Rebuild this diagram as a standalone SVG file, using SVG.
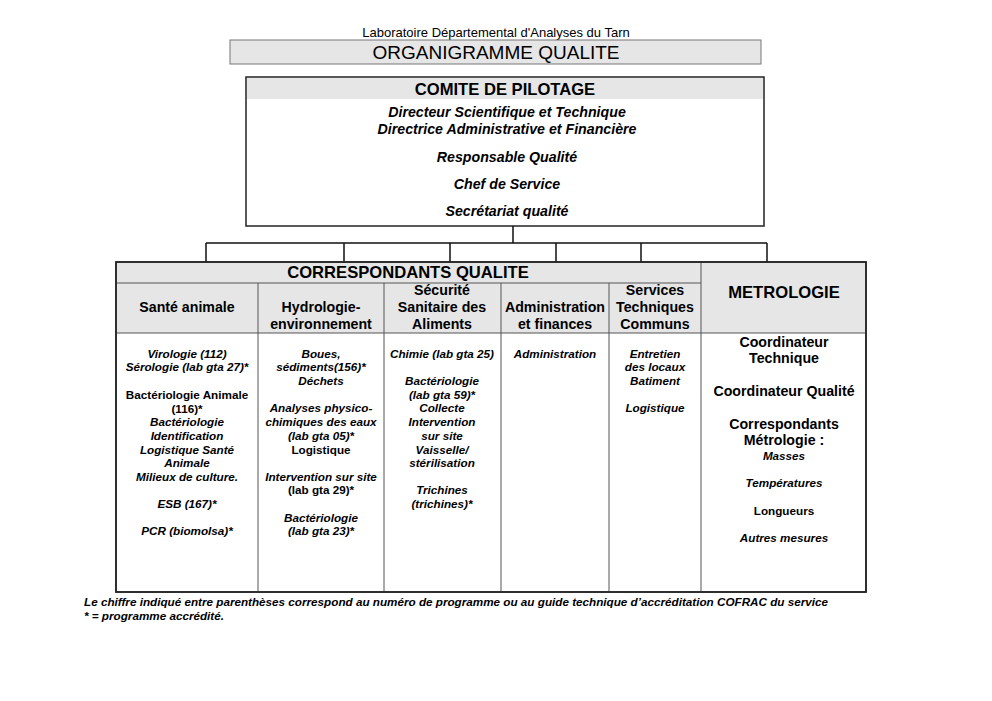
<svg xmlns="http://www.w3.org/2000/svg" width="992" height="701" viewBox="0 0 992 701">
<style>
text{font-family:"Liberation Sans",Arial,sans-serif;fill:#000;text-anchor:middle}
.b{font-weight:bold}
.bi{font-weight:bold;font-style:italic}
.s11{font-size:11.7px}
.s13{font-size:14.2px}
.s16{font-size:16.6px}
.box{fill:#fff;stroke:#222;stroke-width:1.5}
.gray{fill:#e6e6e6}
.div{stroke:#555;stroke-width:1}
.con{stroke:#111;stroke-width:1.5;fill:none}
</style>
<rect width="992" height="701" fill="#fff"/>
<g id="header">
<text x="496" y="37" style="font-size:13px">Laboratoire Départemental d'Analyses du Tarn</text>
<rect x="230" y="40" width="531" height="24" class="gray" stroke="#777" stroke-width="1"/>
<text x="496" y="59" style="font-size:19px">ORGANIGRAMME QUALITE</text>
</g>
<g id="comite">
<rect x="246" y="77" width="518" height="149" class="box"/>
<rect x="247" y="78" width="516" height="21" class="gray"/>
<text x="505" y="95" class="b s16">COMITE DE PILOTAGE</text>
<text x="507" y="117" class="bi s13">Directeur Scientifique et Technique</text>
<text x="507" y="134" class="bi s13">Directrice Administrative et Financière</text>
<text x="507" y="162" class="bi s13">Responsable Qualité</text>
<text x="507" y="189" class="bi s13">Chef de Service</text>
<text x="507" y="216" class="bi s13">Secrétariat qualité</text>
</g>
<g id="connectors">
<path class="con" d="M513 226V243M206 243H767M206 243V262M344 243V262M450 243V262M556 243V262M641 243V262M767 243V262"/>
</g>
<g id="table">
<rect x="116" y="262" width="750" height="330" class="box"/>
<rect x="117" y="263" width="748" height="70" class="gray"/>
<rect x="117" y="334" width="748" height="257" fill="#fff"/>
<path class="div" d="M701 262V592M116 283H701M116 333H866M258 283V592M384 283V592M501 283V592M609 283V592"/>
<rect x="116" y="262" width="750" height="330" fill="none" stroke="#222" stroke-width="1.5"/>
</g>
<g id="correspondants">
<text x="408" y="278" class="b s16">CORRESPONDANTS QUALITE</text>
</g>
<g id="sante">
<text x="187" y="312" class="b s13">Santé animale</text>
<g class="s11">
<text x="187" y="358" class="bi">Virologie (112)</text>
<text x="187" y="371" class="bi">Sérologie (lab gta 27)*</text>
<text x="187" y="399" class="b">Bactériologie Animale</text>
<text x="187" y="413" class="b">(116)*</text>
<text x="187" y="426" class="bi">Bactériologie</text>
<text x="187" y="440" class="bi">Identification</text>
<text x="187" y="454" class="bi">Logistique Santé</text>
<text x="187" y="467" class="bi">Animale</text>
<text x="187" y="481" class="bi">Milieux de culture.</text>
<text x="187" y="508" class="bi">ESB (167)*</text>
<text x="187" y="535" class="bi">PCR (biomolsa)*</text>
</g>
</g>
<g id="hydrologie">
<text x="321" y="312" class="b s13">Hydrologie-</text>
<text x="321" y="329" class="b s13">environnement</text>
<g class="s11">
<text x="321" y="358" class="bi">Boues,</text>
<text x="321" y="371" class="bi">sédiments(156)*</text>
<text x="321" y="385" class="bi">Déchets</text>
<text x="321" y="412" class="bi">Analyses physico-</text>
<text x="321" y="426" class="bi">chimiques des eaux</text>
<text x="321" y="440" class="bi">(lab gta 05)*</text>
<text x="321" y="454" class="b">Logistique</text>
<text x="321" y="481" class="bi">Intervention sur site</text>
<text x="321" y="494" class="b">(lab gta 29)*</text>
<text x="321" y="522" class="bi">Bactériologie</text>
<text x="321" y="535" class="bi">(lab gta 23)*</text>
</g>
</g>
<g id="securite">
<text x="442" y="295" class="b s13">Sécurité</text>
<text x="442" y="312" class="b s13">Sanitaire des</text>
<text x="442" y="329" class="b s13">Aliments</text>
<g class="s11">
<text x="442" y="358" class="bi">Chimie (lab gta 25)</text>
<text x="442" y="385" class="bi">Bactériologie</text>
<text x="442" y="399" class="bi">(lab gta 59)*</text>
<text x="442" y="412" class="bi">Collecte</text>
<text x="442" y="426" class="bi">Intervention</text>
<text x="442" y="440" class="bi">sur site</text>
<text x="442" y="454" class="bi">Vaisselle/</text>
<text x="442" y="467" class="bi">stérilisation</text>
<text x="442" y="494" class="bi">Trichines</text>
<text x="442" y="508" class="bi">(trichines)*</text>
</g>
</g>
<g id="administration">
<text x="555" y="312" class="b s13">Administration</text>
<text x="555" y="329" class="b s13">et finances</text>
<text x="555" y="358" class="bi s11">Administration</text>
</g>
<g id="services">
<text x="655" y="295" class="b s13">Services</text>
<text x="655" y="312" class="b s13">Techniques</text>
<text x="655" y="329" class="b s13">Communs</text>
<g class="s11">
<text x="655" y="358" class="bi">Entretien</text>
<text x="655" y="371" class="bi">des locaux</text>
<text x="655" y="385" class="bi">Batiment</text>
<text x="655" y="412" class="bi">Logistique</text>
</g>
</g>
<g id="metrologie">
<text x="784" y="298" class="b s16">METROLOGIE</text>
<text x="784" y="347" class="b s13">Coordinateur</text>
<text x="784" y="363" class="b s13">Technique</text>
<text x="784" y="396" class="b s13">Coordinateur Qualité</text>
<text x="784" y="429" class="b s13">Correspondants</text>
<text x="784" y="445" class="b s13">Métrologie :</text>
<g class="s11">
<text x="784" y="460" class="bi">Masses</text>
<text x="784" y="487" class="bi">Températures</text>
<text x="784" y="515" class="b">Longueurs</text>
<text x="784" y="542" class="bi">Autres mesures</text>
</g>
</g>
<g id="footer">
<text x="84" y="606" class="bi s11" style="text-anchor:start">Le chiffre indiqué entre parenthèses correspond au numéro de programme ou au guide technique d’accréditation COFRAC du service</text>
<text x="84" y="620" class="bi s11" style="text-anchor:start">* = programme accrédité.</text>
</g>
</svg>
